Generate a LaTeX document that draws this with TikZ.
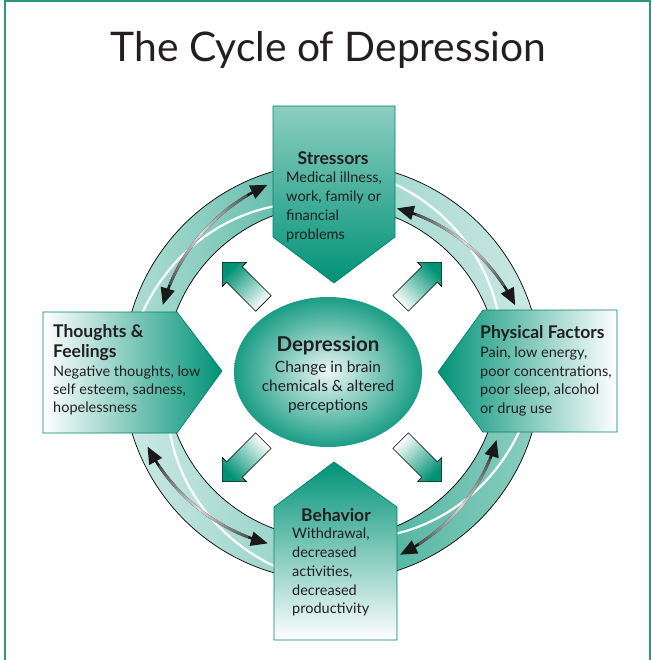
\documentclass[tikz,border=0pt]{standalone}
\usepackage{fontspec}
\setmainfont{Lato}
\usetikzlibrary{arrows.meta}
\definecolor{tealc}{RGB}{0,146,118}
\definecolor{txt}{RGB}{35,31,32}
\definecolor{framec}{RGB}{45,150,125}
\def\cx{332}
\def\cy{372}
\def\Ro{209}
\def\Ri{167}
\newcommand\spiralpath[4]{plot[domain=0:1,samples=25,variable=\t] ({\cx+(#2+(#4-(#2))*\t)*cos(#1+(#3-(#1))*\t)},{\cy-(#2+(#4-(#2))*\t)*sin(#1+(#3-(#1))*\t)})}
\newcommand\bandpath[2]{plot[domain=#1:#2,samples=40,variable=\t] ({\cx+\Ro*cos(\t)},{\cy-\Ro*sin(\t)}) -- plot[domain=#2:#1,samples=40,variable=\t] ({\cx+\Ri*cos(\t)},{\cy-\Ri*sin(\t)}) -- cycle}
\newcommand\ringarrow[4]{%
  \draw[ringarrowline, black!90, {Triangle[length=17pt,width=14pt]}-{Triangle[length=17pt,width=14pt]}] \spiralpath{#1}{#2}{#3}{#4};
  \foreach \k in {7,...,42}{%
    \pgfmathsetmacro\ta{\k/50}%
    \pgfmathsetmacro\tb{(\k+1)/50}%
    \pgfmathsetmacro\pc{15+75*abs(2*\ta-1)}%
    \draw[ringarrowline, line cap=round, black!\pc] plot[domain=\ta:\tb,samples=3,variable=\t] ({\cx+(#2+(#4-(#2))*\t)*cos(#1+(#3-(#1))*\t)},{\cy-(#2+(#4-(#2))*\t)*sin(#1+(#3-(#1))*\t)});
  }%
}
\newcommand\blockarr[2]{%
  \begin{scope}[shift={(\cx,\cy)}, rotate=#1]
    \path[smallarrow, top color=tealc, bottom color=white, shading angle=#2]
      (97,-11) -- (138,-11) -- (138,-17) -- (155,0) -- (138,17) -- (138,11) -- (97,11) -- cycle;
  \end{scope}%
}
\begin{document}
\begin{tikzpicture}[x=1pt,y=-1pt,
  boxtext/.style={anchor=base west, inner sep=0pt, font=\fontsize{14.5}{17}\selectfont, text=txt},
  boxhead/.style={anchor=base, inner sep=0pt, font=\fontsize{17.5}{20}\selectfont\bfseries, text=txt},
  boxheadl/.style={anchor=base west, inner sep=0pt, font=\fontsize{17.5}{20}\selectfont\bfseries, text=txt},
  boxline/.style={draw=tealc!90!black, line width=0.7pt},
  ringedge/.style={draw=black, line width=0.7pt},
  ringarrowline/.style={line width=2.6pt},
  whiteline/.style={draw=white, line width=2.2pt},
  smallarrow/.style={draw=black, line width=0.6pt}]
\useasboundingbox (0,0) rectangle (652,660);
% frame
\coordinate (fbl) at (5,660);
\coordinate (ftl) at (5,1);
\coordinate (ftr) at (650,1);
\coordinate (fbr) at (650,660);
\draw[framec, line width=2pt] (fbl) -- (ftl) -- (ftr) -- (fbr);
% title
\node[anchor=base, inner sep=0pt, font=\fontsize{40.8}{46}\selectfont, text=txt] (title) at (328.5,62) {The Cycle of Depression};
% ring bands
\shade[left color=tealc!30!white, right color=tealc!70!white] \bandpath{90}{180};
\shade[left color=tealc!40!white, right color=tealc!20!white] \bandpath{0}{90};
\shade[left color=tealc!20!white, right color=tealc!45!white] \bandpath{180}{270};
\shade[left color=tealc!75!white, right color=tealc!45!white] \bandpath{270}{360};
\draw[ringedge] (\cx,\cy) circle[radius=\Ro pt];
\draw[ringedge] (\cx,\cy) circle[radius=\Ri pt];
% white highlight lines
\draw[whiteline] \spiralpath{165.8}{200}{105.6}{174};
\draw[whiteline] \spiralpath{76}{200}{16.5}{175};
\draw[whiteline] \spiralpath{197}{171}{256}{204};
\draw[whiteline] \spiralpath{-14}{198}{-72.7}{172};
% double arrows
\ringarrow{158.4}{182}{109}{198}
\ringarrow{68.4}{176}{20}{195}
\ringarrow{202}{199}{249.5}{183}
\ringarrow{-22.4}{178}{-69.6}{195}
% boxes
\shadedraw[boxline, top color=tealc!45!white, bottom color=tealc] (273,106) -- (395,106) -- (395,237) -- (334,283) -- (273,237) -- cycle;
\shadedraw[boxline, left color=white, right color=tealc] (43,312) -- (177,312) -- (222,371) -- (177,433) -- (43,433) -- cycle;
\shadedraw[boxline, left color=tealc, right color=white] (438,372) -- (483,310) -- (617,310) -- (617,432) -- (483,432) -- cycle;
\shadedraw[boxline, top color=tealc, bottom color=white] (334,462) -- (397,507) -- (397,640) -- (274,640) -- (274,507) -- cycle;
% small block arrows
\blockarr{135}{45}
\blockarr{45}{-45}
\blockarr{225}{135}
\blockarr{315}{225}
% centre ellipse
\shade[inner color=tealc!8!white, outer color=tealc!90!white] (328,372) ellipse [x radius=94pt, y radius=75pt];
% texts
\node[boxhead] (sh) at (333,165) {Stressors};
\node[boxtext] (s1) at (286,183) {Medical illness,};
\node[boxtext] (s2) at (286,202) {work, family or};
\node[boxtext] (s3) at (286,220) {financial};
\node[boxtext] (s4) at (286,239) {problems};
\node[boxheadl] (th1) at (53,337) {Thoughts \&};
\node[boxheadl] (th2) at (53,357) {Feelings};
\node[boxtext] (t1) at (53,376) {Negative thoughts, low};
\node[boxtext] (t2) at (53,394) {self esteem, sadness,};
\node[boxtext] (t3) at (53,412) {hopelessness};
\node[boxheadl] (ph) at (480,338) {Physical Factors};
\node[boxtext] (p1) at (480,357) {Pain, low energy,};
\node[boxtext] (p2) at (480,376) {poor concentrations,};
\node[boxtext] (p3) at (480,394) {poor sleep, alcohol};
\node[boxtext] (p4) at (480,413) {or drug use};
\node[boxhead] (bh) at (336,521) {Behavior};
\node[boxtext] (b1) at (292,538) {Withdrawal,};
\node[boxtext] (b2) at (292,557) {decreased};
\node[boxtext] (b3) at (292,576) {activities,};
\node[boxtext] (b4) at (292,595) {decreased};
\node[boxtext] (b5) at (292,613) {productivity};
\node[anchor=base, inner sep=0pt, font=\fontsize{20.5}{24}\selectfont\bfseries, text=txt] (dh) at (328,351) {Depression};
\node[anchor=base, inner sep=0pt, font=\fontsize{15.5}{18}\selectfont, text=txt] (d1) at (328,372) {Change in brain};
\node[anchor=base, inner sep=0pt, font=\fontsize{15.5}{18}\selectfont, text=txt] (d2) at (328,391) {chemicals \& altered};
\node[anchor=base, inner sep=0pt, font=\fontsize{15.5}{18}\selectfont, text=txt] (d3) at (328,410) {perceptions};
\end{tikzpicture}
\end{document}
